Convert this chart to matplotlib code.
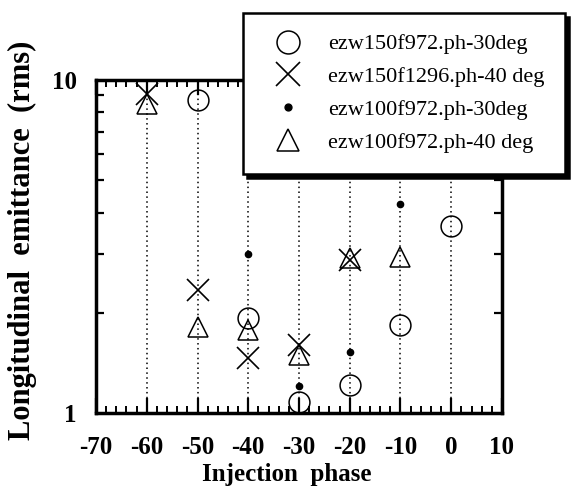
import numpy as np
import matplotlib
matplotlib.use('Agg')
import matplotlib.pyplot as plt
from matplotlib.ticker import FixedLocator, NullFormatter

# ── data: injection phase (deg) vs longitudinal emittance (rms) ─────────────
phase_c = [-50, -40, -30, -20, -10, 0]
emit_c = [8.7, 1.93, 1.08, 1.21, 1.84, 3.64]          # ezw150f972.ph-30deg

phase_x = [-60, -50, -40, -30, -20]
emit_x = [9.1, 2.34, 1.46, 1.60, 2.88]                # ezw150f1296.ph-40 deg

phase_d = [-40, -30, -20, -10]
emit_d = [3.0, 1.20, 1.52, 4.24]                      # ezw100f972.ph-30deg

phase_t = [-60, -50, -40, -30, -20, -10]
emit_t = [8.5, 1.81, 1.77, 1.49, 2.92, 2.94]          # ezw100f972.ph-40 deg

labels = ['ezw150f972.ph-30deg', 'ezw150f1296.ph-40 deg',
          'ezw100f972.ph-30deg', 'ezw100f972.ph-40 deg']
grid_x = [-60, -50, -40, -30, -20, -10, 0]
xticks = [-70, -60, -50, -40, -30, -20, -10, 0, 10]

SERIF = 'Liberation Serif'
plt.rcParams.update({
    'font.family': SERIF,
    'axes.linewidth': 2.5,
})

fig = plt.figure(figsize=(5.75, 4.92), dpi=100)
ax = fig.add_axes([0.167, 0.161, 0.706, 0.676])

for gx in grid_x:
    ax.axvline(gx, color='black', ls=(0, (1, 2.2)), lw=1.1, zorder=1)

ax.plot(phase_c, emit_c, ls='none', marker='o', ms=15, mfc='none',
        mec='black', mew=1.1, label=labels[0], zorder=3)
ax.plot(phase_x, emit_x, ls='none', marker='x', ms=16, mec='black',
        mew=1.2, label=labels[1], zorder=3)
ax.plot(phase_d, emit_d, ls='none', marker='o', ms=4.5, mfc='black',
        mec='black', label=labels[2], zorder=3)
ax.plot(phase_t, emit_t, ls='none', marker='^', ms=15, mfc='none',
        mec='black', mew=1.1, label=labels[3], zorder=3)

ax.set_yscale('log')
ax.set_xlim(-70, 10)
ax.set_ylim(1, 10)

# x ticks: long every 10, short every 2, pointing inwards on both edges
ax.xaxis.set_major_locator(FixedLocator(xticks))
ax.xaxis.set_minor_locator(FixedLocator(np.arange(-70, 11, 2)))
ax.set_xticklabels([str(v) for v in xticks])
ax.tick_params(axis='x', which='major', direction='in', length=11, width=1.6,
               top=True, pad=17)
ax.tick_params(axis='x', which='minor', direction='in', length=5, width=1.4,
               top=True)

# y ticks: only 1 and 10 labelled, 2..9 as inward marks on both sides
ax.yaxis.set_major_locator(FixedLocator([1, 10]))
ax.yaxis.set_minor_locator(FixedLocator(list(range(2, 10))))
ax.yaxis.set_minor_formatter(NullFormatter())
ax.set_yticklabels(['1', '10'])
ax.tick_params(axis='y', which='major', direction='in', length=0, pad=14)
ax.tick_params(axis='y', which='minor', direction='in', length=6, width=1.6,
               right=True)

for lab in ax.get_xticklabels() + ax.get_yticklabels():
    lab.set_fontsize(18)
    lab.set_fontweight('bold')

ax.set_xlabel('Injection  phase', fontsize=18, fontweight='bold')
ax.xaxis.set_label_coords(0.47, -0.15)
ax.set_ylabel('Longitudinal  emittance  (rms)', fontsize=22,
              fontweight='bold')
ax.yaxis.set_label_coords(-0.145, 0.52)

leg = ax.legend(loc='upper left', bbox_to_anchor=(0.423, 0.974),
                bbox_transform=fig.transFigure, fancybox=False,
                shadow={'color': 'black', 'alpha': 1.0, 'ox': 3, 'oy': -3},
                framealpha=1, edgecolor='black', prop={'family': SERIF, 'size': 16},
                handletextpad=0.75, labelspacing=0.55, borderpad=0.95,
                handlelength=2.1, borderaxespad=0, markerscale=1.1)
leg.get_frame().set_linewidth(1.8)
leg.set_zorder(10)

fig.savefig('out.png', dpi=100)
